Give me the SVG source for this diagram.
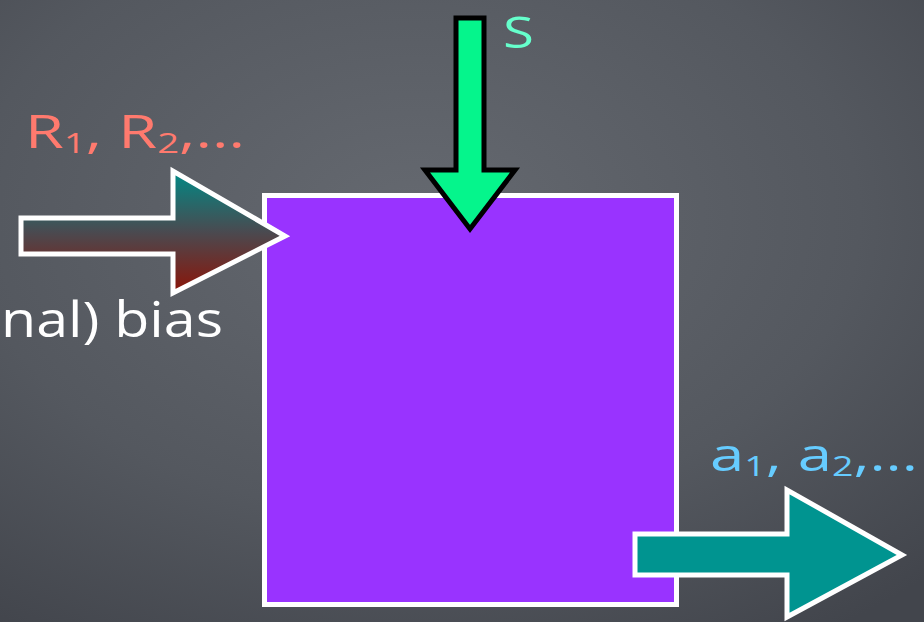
<svg xmlns="http://www.w3.org/2000/svg" width="924" height="622" viewBox="0 0 924 622">
<defs>
<radialGradient id="bg" cx="0.45" cy="0.35" r="0.8">
<stop offset="0" stop-color="#656970"/>
<stop offset="0.6" stop-color="#54585f"/>
<stop offset="1" stop-color="#42454c"/>
</radialGradient>
<linearGradient id="rg" x1="0" y1="0" x2="0" y2="1">
<stop offset="0" stop-color="#008a86"/>
<stop offset="0.5" stop-color="#4a4a50"/>
<stop offset="1" stop-color="#8c1408"/>
</linearGradient>
<style>
.lbl{font-family:"Open Sans","DejaVu Sans",sans-serif;}
.sub{font-size:28px;}
.wa{stroke:#ffffff;stroke-width:5;stroke-linejoin:miter;}
</style>
</defs>
<rect width="924" height="622" fill="url(#bg)"/>
<g id="box">
<rect x="264.5" y="195.5" width="412" height="409" fill="#9933ff" stroke="#ffffff" stroke-width="5"/>
</g>
<g id="connectors">
<path id="arrow-r" class="wa" d="M21,218 H173 V171 L285,236 L173,293 V254 H21 Z" fill="url(#rg)"/>
<path id="arrow-s" d="M456,18 H484 V170 H515 L470,229 L425,170 H456 Z" fill="#05f58c" stroke="#000000" stroke-width="5"/>
<path id="arrow-a" class="wa" d="M635,534 H787 V490 L902,555 L787,617 V575 H635 Z" fill="#009490"/>
</g>
<g id="labels">
<text class="lbl" x="25" y="148" font-size="46" fill="#ff7a6e" textLength="220" lengthAdjust="spacingAndGlyphs">R<tspan class="sub" dy="5">1</tspan><tspan dy="-5">, R</tspan><tspan class="sub" dy="5">2</tspan><tspan dy="-5">,...</tspan></text>
<text class="lbl" x="503" y="48" font-size="44" fill="#66ffcc" textLength="31" lengthAdjust="spacingAndGlyphs">S</text>
<text class="lbl" x="1" y="337" font-size="50" fill="#ffffff" textLength="222" lengthAdjust="spacingAndGlyphs">nal) bias</text>
<text class="lbl" x="710" y="471" font-size="46" fill="#66ccff" textLength="208" lengthAdjust="spacingAndGlyphs">a<tspan class="sub" dy="5">1</tspan><tspan dy="-5">, a</tspan><tspan class="sub" dy="5">2</tspan><tspan dy="-5">,...</tspan></text>
</g>
</svg>
